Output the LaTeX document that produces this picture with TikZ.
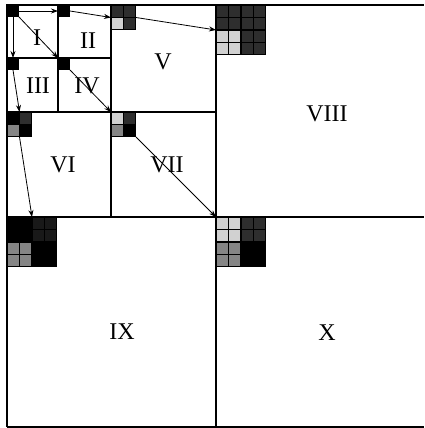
\documentclass[tikz,border=0pt]{standalone}
\usepackage{fontspec}
\setmainfont{Liberation Serif}
\usetikzlibrary{arrows.meta,calc}
\colorlet{dk}{black!82}
\colorlet{md}{black!48}
\colorlet{lt}{black!18}
\newcommand\cellgrid[3]{%
  \foreach \cc [count=\k from 0] in {#3} {%
    \pgfmathtruncatemacro\cx{mod(\k,#2)}%
    \pgfmathtruncatemacro\cy{div(\k,#2)}%
    \fill[fill=\cc] ($(#1.north west)+(\cx*12.5+0.7,\cy*12.5+0.7)$) rectangle ++(11.1,11.1);
  }}
\tikzset{
  grid line/.style={line width=1.3pt, black},
  blk/.style={draw=none, fill=black, inner sep=0pt, outer sep=0pt, anchor=north west, minimum size=#1},
  conn/.style={-{Stealth[length=7pt,width=5pt]}, line width=0.8pt},
  lab/.style={font=\fontsize{24}{24}\selectfont, inner sep=0pt}
}
\begin{document}
\begin{tikzpicture}[x=1pt,y=-1pt]
\useasboundingbox[fill=white] (0,0) rectangle (424,428);
% frame and subdivisions
\draw[grid line] (7,427) -- (7,5) -- (424,5);
\draw[grid line] (7,427) -- (424,427);
\draw[grid line] (216,5) -- (216,427);
\draw[grid line] (7,217) -- (424,217);
\draw[grid line] (111,5) -- (111,217);
\draw[grid line] (7,112) -- (216,112);
\draw[grid line] (58,5) -- (58,112);
\draw[grid line] (7,58) -- (111,58);
% pixel blocks
\node[blk=12pt] (bI) at (7,5) {};
\node[blk=12pt] (bII) at (58,5) {};
\node[blk=12pt] (bIII) at (7,58) {};
\node[blk=12pt] (bIV) at (58,58) {};
\node[blk=25pt] (bV) at (111,5) {};
\node[blk=25pt] (bVI) at (7,112) {};
\node[blk=25pt] (bVII) at (111,112) {};
\node[blk=50pt] (bVIII) at (216,5) {};
\node[blk=50pt] (bIX) at (7,217) {};
\node[blk=50pt] (bX) at (216,217) {};
\cellgrid{bV}{2}{dk,dk,lt,dk}
\cellgrid{bVI}{2}{black,dk,md,black}
\cellgrid{bVII}{2}{lt,dk,md,black}
\cellgrid{bVIII}{4}{dk,dk,dk,dk,dk,dk,dk,dk,lt,lt,dk,dk,lt,lt,dk,dk}
\cellgrid{bIX}{4}{black,black,black!90,black!90,black,black,black!90,black!90,md,md,black,black,md,md,black,black}
\cellgrid{bX}{4}{lt,lt,dk,dk,lt,lt,dk,dk,md,md,black,black,md,md,black,black}
% arrows
\draw[conn] (bI.east) -- (bII.west);
\draw[conn] (bI.south) -- (bIII.north);
\draw[conn] (bI.south east) -- (bIV.north west);
\draw[conn] (bII.east) -- (bV.west);
\draw[conn] (bIII.south) -- (bVI.north);
\draw[conn] (bIV.south east) -- (bVII.north west);
\draw[conn] (bV.east) -- (bVIII.west);
\draw[conn] (bVI.south) -- (bIX.north);
\draw[conn] (bVII.south east) -- (bX.north west);
% labels
\node[lab] (lI) at (37,38) {I};
\node[lab] (lII) at (88,41) {II};
\node[lab] (lIII) at (38,86) {III};
\node[lab] (lIV) at (87,86) {IV};
\node[lab] (lV) at (163,62) {V};
\node[lab] (lVI) at (63,165) {VI};
\node[lab] (lVII) at (167,165) {VII};
\node[lab] (lVIII) at (327,114) {VIII};
\node[lab] (lIX) at (122,332) {IX};
\node[lab] (lX) at (327,333) {X};
\end{tikzpicture}
\end{document}
